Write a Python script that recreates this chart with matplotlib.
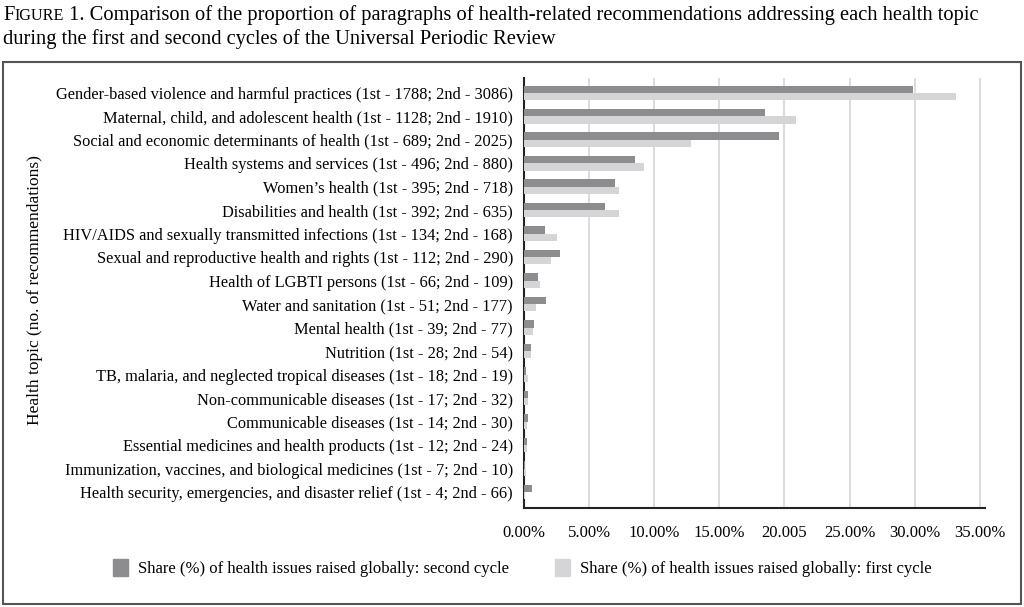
import matplotlib
matplotlib.use("Agg")
import matplotlib.pyplot as plt
import matplotlib.patches as mpatches

plt.rcParams['font.family'] = ['Liberation Serif', 'DejaVu Serif']

# Health topics, top to bottom
topics = [
    "Gender-based violence and harmful practices (1st - 1788; 2nd - 3086)",
    "Maternal, child, and adolescent health (1st - 1128; 2nd - 1910)",
    "Social and economic determinants of health (1st - 689; 2nd - 2025)",
    "Health systems and services (1st - 496; 2nd - 880)",
    "Women\u2019s health (1st - 395; 2nd - 718)",
    "Disabilities and health (1st - 392; 2nd - 635)",
    "HIV/AIDS and sexually transmitted infections (1st - 134; 2nd - 168)",
    "Sexual and reproductive health and rights (1st - 112; 2nd - 290)",
    "Health of LGBTI persons (1st - 66; 2nd - 109)",
    "Water and sanitation (1st - 51; 2nd - 177)",
    "Mental health (1st - 39; 2nd - 77)",
    "Nutrition (1st - 28; 2nd - 54)",
    "TB, malaria, and neglected tropical diseases (1st - 18; 2nd - 19)",
    "Non-communicable diseases (1st - 17; 2nd - 32)",
    "Communicable diseases (1st - 14; 2nd - 30)",
    "Essential medicines and health products (1st - 12; 2nd - 24)",
    "Immunization, vaccines, and biological medicines (1st - 7; 2nd - 10)",
    "Health security, emergencies, and disaster relief (1st - 4; 2nd - 66)",
]

# share (%)
second_cycle = [29.9, 18.5, 19.6, 8.5, 7.0, 6.2, 1.6, 2.8, 1.1, 1.7, 0.75, 0.52,
                0.18, 0.31, 0.29, 0.23, 0.10, 0.64]
first_cycle = [33.2, 20.9, 12.8, 9.2, 7.3, 7.3, 2.5, 2.1, 1.2, 0.95, 0.72, 0.52,
               0.33, 0.32, 0.26, 0.22, 0.13, 0.07]

xticks = [0, 5, 10, 15, 20, 25, 30, 35]
xtick_labels = ["0.00%", "5.00%", "10.00%", "15.00%", "20.005", "25.00%", "30.00%", "35.00%"]

dark = "#8d8d8f"
light = "#d5d5d7"

W, H = 1024, 607
fig = plt.figure(figsize=(W / 100, H / 100), dpi=100)

ax = fig.add_axes([524 / W, 1 - 508 / H, (985 - 524) / W, (508 - 78) / H])

pos = list(range(len(topics)))
bh = 0.31
ax.barh([p - bh / 2 for p in pos], second_cycle, height=bh, color=dark, zorder=3)
ax.barh([p + bh / 2 for p in pos], first_cycle, height=bh, color=light, zorder=3)

ax.set_ylim(17.68, -0.63)
ax.set_xlim(0, 35.4)
ax.set_yticks(pos)
ax.set_yticklabels(topics, fontsize=11.8)
ax.set_xticks(xticks)
ax.set_xticklabels(xtick_labels, fontsize=12)
ax.tick_params(axis='both', length=0)
ax.tick_params(axis='y', pad=8)
ax.tick_params(axis='x', pad=12)
ax.xaxis.grid(True, color="#d9d9d9", linewidth=1.3, zorder=0)
ax.set_axisbelow(True)
for s in ['top', 'right']:
    ax.spines[s].set_visible(False)
for s in ['left', 'bottom']:
    ax.spines[s].set_color("#222222")
    ax.spines[s].set_linewidth(1.5)

fig.text(35 / W, 1 - 290 / H, "Health topic (no. of recommendations)", rotation=90,
         ha='center', va='center', fontsize=12.5)

# legends
h2 = mpatches.Patch(color=dark, label="Share (%) of health issues raised globally: second cycle")
h1 = mpatches.Patch(color=light, label="Share (%) of health issues raised globally: first cycle")
kw = dict(frameon=False, fontsize=12, handlelength=0.9, handleheight=1.2, handletextpad=0.6,
          loc='center left', borderaxespad=0)
fig.legend(handles=[h2], bbox_to_anchor=(106 / W, 1 - 568 / H), **kw)
fig.legend(handles=[h1], bbox_to_anchor=(548 / W, 1 - 568 / H), **kw)

# outer frame
fig.patches.append(mpatches.Rectangle((3 / W, 3 / H), 1018 / W, (604 - 62) / H,
                                      transform=fig.transFigure, fill=False,
                                      edgecolor="#555555", linewidth=1.5))

# title with small caps "Figure"
t1 = fig.text(3 / W, 1 - 20 / H, "F", fontsize=14.8, va='baseline', ha='left')
t2 = fig.text(0, 0, "IGURE", fontsize=11.6, va='baseline', ha='left')
t3 = fig.text(0, 0, " 1. Comparison of the proportion of paragraphs of health-related recommendations addressing each health topic",
              fontsize=14.8, va='baseline', ha='left')
fig.canvas.draw()
r = fig.canvas.get_renderer()
x = t1.get_window_extent(r).x1 / W
t2.set_position((x, 1 - 20 / H))
fig.canvas.draw()
x = t2.get_window_extent(r).x1 / W
t3.set_position((x, 1 - 20 / H))
fig.text(3 / W, 1 - 44 / H, "during the first and second cycles of the Universal Periodic Review",
         fontsize=14.8, va='baseline', ha='left')

fig.savefig("out.png", dpi=100)
